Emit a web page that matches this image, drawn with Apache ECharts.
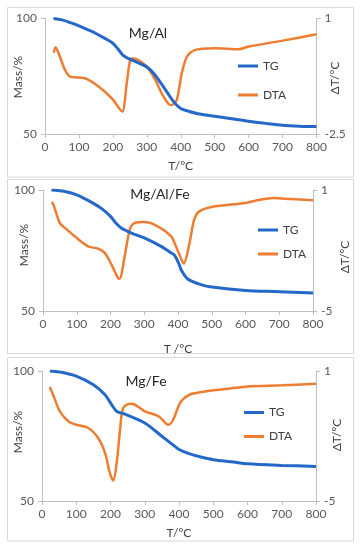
<!DOCTYPE html>
<html>
<head>
<meta charset="utf-8">
<script src="https://cdn.jsdelivr.net/npm/echarts@6/dist/echarts.min.js"></script>
<style>html,body{margin:0;padding:0;background:#fff}#c{width:362px;height:550px}</style>
</head>
<body>
<div id="c"></div>
<script>
// ---- data ----
const titles = ['Mg/Al', 'Mg/Al/Fe', 'Mg/Fe'];
const xNames = ['T/°C', 'T /°C', 'T/°C'];
const leftNames = ['Mass/%', 'Mass/%', 'Mass/%'];
const rightNames = ['ΔT/°C', 'ΔT/ºC', 'ΔT/ºC'];
const rightMin = [-2.5, -5, -5];

const tg1T = [25, 50, 75, 100, 125, 150, 175, 200, 215, 230, 245, 260, 280, 300, 320, 340, 360, 380, 400, 420, 450, 500, 550, 600, 650, 700, 750, 800];
const tg1  = [100, 99.4, 98.2, 96.8, 95.2, 93.5, 91.5, 89.3, 86.8, 84, 82.7, 81.8, 80.5, 79, 76.3, 72.3, 68, 63.8, 61, 60, 58.8, 57.7, 56.6, 55.5, 54.6, 53.8, 53.4, 53.2];
const dta1T = [26, 31, 44, 59, 74, 100, 118, 157, 197, 220, 228, 241, 251, 261, 275, 300, 325, 344, 364, 373, 388, 403, 418, 438, 462, 500, 570, 600, 700, 800];
const dta1  = [-0.04, 0.13, -0.16, -0.56, -0.76, -0.79, -0.81, -1.05, -1.42, -1.74, -1.82, -0.96, -0.26, -0.21, -0.26, -0.46, -0.86, -1.27, -1.59, -1.62, -1.47, -0.66, -0.16, 0.03, 0.08, 0.1, 0.07, 0.15, 0.33, 0.52];

const tg2T = [25, 65, 100, 148, 175, 200, 215, 232, 262, 300, 350, 380, 390, 404, 409, 429, 468, 500, 600, 700, 800];
const tg2  = [100, 99.4, 98, 94.6, 92.2, 89.1, 86.5, 84.3, 82.2, 80.2, 76.7, 74, 73, 69.1, 67.1, 63.2, 60.9, 59.9, 58.5, 58, 57.4];
const dta2T = [26, 31, 50, 65, 100, 134, 163, 183, 203, 222, 227, 242, 257, 271, 300, 340, 380, 392, 404, 417, 434, 448, 463, 500, 600, 635, 684, 734, 800];
const dta2  = [0.4, 0.27, -0.64, -0.88, -1.38, -1.79, -1.91, -2.12, -2.7, -3.36, -3.4, -2.29, -0.97, -0.64, -0.59, -0.8, -1.3, -1.72, -2.2, -2.65, -1.63, -0.47, -0.06, 0.16, 0.36, 0.49, 0.6, 0.55, 0.49];

const tg3T = [23, 57, 100, 150, 184, 200, 218, 238, 300, 350, 388, 403, 427, 461, 500, 559, 600, 700, 800];
const tg3  = [100, 99.5, 98, 94.7, 90.9, 87.7, 84.5, 83.6, 80, 74.9, 71, 69.6, 68.3, 67, 65.9, 65, 64.3, 63.7, 63.3];
const dta3T = [23, 38, 52, 77, 100, 135, 164, 184, 198, 208, 218, 228, 237, 257, 271, 300, 340, 369, 383, 403, 427, 466, 500, 544, 600, 700, 800];
const dta3  = [0.26, -0.32, -0.86, -1.32, -1.48, -1.63, -2.09, -2.78, -3.7, -4.05, -3.25, -1.7, -0.71, -0.51, -0.55, -0.86, -1.09, -1.48, -1.25, -0.48, -0.12, 0.03, 0.11, 0.18, 0.29, 0.34, 0.41];

const tgSets = [[tg1T, tg1], [tg2T, tg2], [tg3T, tg3]];
const dtaSets = [[dta1T, dta1], [dta2T, dta2], [dta3T, dta3]];

// ---- layout ----
const FONT = 'Lato, "Liberation Sans", sans-serif';
const grids = [
  {left: 45, right: 45.5, top: 18.5, bottom: 416},
  {left: 43, right: 49, top: 190, bottom: 239},
  {left: 42, right: 46, top: 371, bottom: 49}
];
const titlePos = [[148, 33], [160, 194], [146, 381]];
const legendPos = [[233, 54, 29], [253, 218, 24], [239, 400.5, 24]];
const leftNamePos = [[18, 77], [24, 245], [18, 432]];
const rightNamePos = [[335, 78], [345, 257], [337, 435]];
const xGap = [26, 32, 26];
const frames = [[7.5, 7.5, 346, 169.5], [7.5, 179.5, 346, 174], [7.5, 357.5, 346, 183.5]];

const zip = (a, b) => a.map((v, i) => [v, b[i]]);
const BLUE = '#2468C8', ORANGE = '#ED7D31', AX = '#BFBFBF', LBL = '#595959', NAME = '#404040';

const textEl = (txt, p, rot, size, color) => ({type: 'text', x: p[0], y: p[1], rotation: rot, silent: true,
  style: {text: txt, align: 'center', verticalAlign: 'middle', font: size + 'px ' + FONT, fill: color}});

const graphics = []
  .concat(frames.map(f => ({type: 'rect', shape: {x: f[0], y: f[1], width: f[2], height: f[3]}, style: {fill: 'none', stroke: '#D9D9D9', lineWidth: 1}, silent: true})))
  .concat(titles.map((t, i) => textEl(t, titlePos[i], 0, 14, '#262626')))
  .concat(leftNames.map((t, i) => textEl(t, leftNamePos[i], Math.PI / 2, 12, NAME)))
  .concat(rightNames.map((t, i) => textEl(t, rightNamePos[i], Math.PI / 2, 12, NAME)));

const option = {
  animation: false,
  backgroundColor: '#fff',
  textStyle: {fontFamily: FONT},
  graphic: graphics,
  legend: legendPos.map((p, i) => ({
    left: p[0], top: p[1], orient: 'vertical', itemWidth: 20, itemHeight: 3, itemGap: p[2] - 14,
    icon: 'rect', data: ['TG', 'DTA'], selectedMode: false,
    textStyle: {fontFamily: FONT, fontSize: 12, color: NAME, lineHeight: 14}
  })),
  grid: grids,
  xAxis: grids.map((g, i) => ({
    type: 'value', gridIndex: i, min: 0, max: 800, interval: 100,
    name: xNames[i], nameLocation: 'middle', nameGap: xGap[i],
    nameTextStyle: {fontFamily: FONT, fontSize: 12, color: NAME},
    axisLine: {show: true, onZero: false, lineStyle: {color: AX}},
    axisTick: {show: true, length: 4, lineStyle: {color: AX}},
    splitLine: {show: false},
    axisLabel: {fontFamily: FONT, fontSize: 12, color: LBL, margin: 7}
  })),
  yAxis: [].concat(...grids.map((g, i) => [
    {type: 'value', gridIndex: i, min: 50, max: 100, interval: 50, position: 'left',
     axisLine: {show: true, lineStyle: {color: AX}},
     axisTick: {show: true, length: 4, lineStyle: {color: AX}},
     splitLine: {show: false},
     axisLabel: {fontFamily: FONT, fontSize: 12, color: LBL, margin: 8}},
    {type: 'value', gridIndex: i, min: rightMin[i], max: 1, interval: 1 - rightMin[i], position: 'right',
     axisLine: {show: true, lineStyle: {color: AX}},
     axisTick: {show: true, length: 4, lineStyle: {color: AX}},
     splitLine: {show: false},
     axisLabel: {fontFamily: FONT, fontSize: 12, color: LBL, margin: 8}}
  ])),
  series: [].concat(...grids.map((g, i) => [
    {name: 'TG', type: 'line', xAxisIndex: i, yAxisIndex: 2 * i, data: zip(tgSets[i][0], tgSets[i][1]),
     symbol: 'none', smooth: 0.3, lineStyle: {color: BLUE, width: 3}, itemStyle: {color: BLUE}, z: 3},
    {name: 'DTA', type: 'line', xAxisIndex: i, yAxisIndex: 2 * i + 1, data: zip(dtaSets[i][0], dtaSets[i][1]),
     symbol: 'none', smooth: 0.3, lineStyle: {color: ORANGE, width: 2.5}, itemStyle: {color: ORANGE}, z: 2}
  ]))
};

const chart = echarts.init(document.getElementById('c'), null, {renderer: 'canvas'});
chart.setOption(option);
</script>
</body>
</html>
